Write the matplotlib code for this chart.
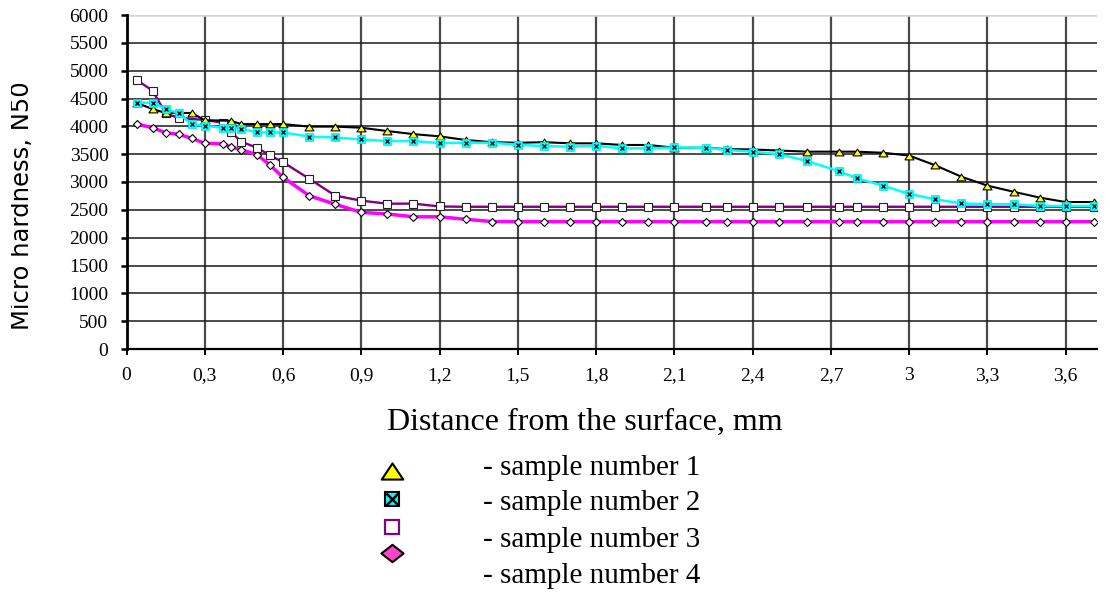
import matplotlib
matplotlib.use("Agg")
import matplotlib.pyplot as plt
from matplotlib.lines import Line2D
from matplotlib.path import Path
from matplotlib.transforms import Bbox, TransformedBbox

# ---------------- data ----------------
x_ticks = [0, 0.3, 0.6, 0.9, 1.2, 1.5, 1.8, 2.1, 2.4, 2.7, 3.0, 3.3, 3.6]
x_tick_labels = ["0", "0,3", "0,6", "0,9", "1,2", "1,5", "1,8", "2,1", "2,4", "2,7", "3", "3,3", "3,6"]
y_ticks = [0, 500, 1000, 1500, 2000, 2500, 3000, 3500, 4000, 4500, 5000, 5500, 6000]

x1 = [0.04, 0.1, 0.15, 0.2, 0.25, 0.3, 0.4, 0.44, 0.5, 0.55, 0.6, 0.7, 0.8, 0.9, 1.0, 1.1, 1.2, 1.3, 1.4, 1.5,
      1.6, 1.7, 1.8, 1.9, 2.0, 2.1, 2.22, 2.3, 2.4, 2.5, 2.61, 2.73, 2.8, 2.9, 3.0, 3.1, 3.2, 3.3, 3.4, 3.5,
      3.6, 3.71]
y1 = [4420, 4310, 4240, 4240, 4240, 4110, 4100, 4040, 4040, 4040, 4040, 3995, 3995, 3975, 3915, 3860, 3820, 3755, 3715, 3705,
      3715, 3695, 3695, 3665, 3665, 3615, 3615, 3590, 3585, 3565, 3545, 3545, 3545, 3525, 3475, 3300, 3095, 2935, 2825, 2720,
      2640, 2640]

x2 = [0.04, 0.1, 0.15, 0.2, 0.25, 0.3, 0.37, 0.4, 0.44, 0.5, 0.55, 0.6, 0.7, 0.8, 0.9, 1.0, 1.1, 1.2, 1.3, 1.4,
      1.5, 1.6, 1.7, 1.8, 1.9, 2.0, 2.1, 2.22, 2.3, 2.4, 2.5, 2.61, 2.73, 2.8, 2.9, 3.0, 3.1, 3.2, 3.3, 3.4,
      3.5, 3.6, 3.71]
y2 = [4425, 4425, 4315, 4235, 4035, 4010, 3975, 3975, 3960, 3890, 3890, 3890, 3815, 3800, 3765, 3735, 3735, 3700, 3705, 3705,
      3670, 3645, 3635, 3650, 3605, 3605, 3620, 3615, 3575, 3545, 3500, 3375, 3195, 3065, 2935, 2785, 2690, 2615, 2600, 2600,
      2570, 2570, 2570]

x3 = [0.04, 0.1, 0.15, 0.2, 0.3, 0.37, 0.4, 0.44, 0.5, 0.55, 0.6, 0.7, 0.8, 0.9, 1.0, 1.1, 1.2, 1.3, 1.4, 1.5,
      1.6, 1.7, 1.8, 1.9, 2.0, 2.1, 2.22, 2.3, 2.4, 2.5, 2.61, 2.73, 2.8, 2.9, 3.0, 3.1, 3.2, 3.3, 3.4, 3.5,
      3.6, 3.71]
y3 = [4830, 4640, 4235, 4150, 4115, 4065, 3900, 3725, 3615, 3480, 3355, 3060, 2755, 2665, 2610, 2612, 2560, 2555, 2555, 2555,
      2555, 2555, 2555, 2555, 2555, 2555, 2555, 2555, 2555, 2555, 2555, 2555, 2555, 2555, 2555, 2555, 2555, 2555, 2555, 2555,
      2555, 2555]

x4 = [0.04, 0.1, 0.15, 0.2, 0.25, 0.3, 0.37, 0.4, 0.44, 0.5, 0.55, 0.6, 0.7, 0.8, 0.9, 1.0, 1.1, 1.2, 1.3, 1.4,
      1.5, 1.6, 1.7, 1.8, 1.9, 2.0, 2.1, 2.22, 2.3, 2.4, 2.5, 2.61, 2.73, 2.8, 2.9, 3.0, 3.1, 3.2, 3.3, 3.4,
      3.5, 3.6, 3.71]
y4 = [4040, 3975, 3885, 3855, 3785, 3695, 3685, 3630, 3580, 3490, 3305, 3085, 2755, 2600, 2455, 2425, 2375, 2375, 2330, 2290,
      2287, 2287, 2287, 2287, 2287, 2287, 2287, 2287, 2287, 2287, 2287, 2287, 2287, 2287, 2287, 2287, 2287, 2287, 2287, 2287,
      2287, 2287, 2287]

legend_labels = ["- sample number 1", "- sample number 2", "- sample number 3", "- sample number 4"]
x_label = "Distance from the surface, mm"
y_label = "Micro hardness, N50"

# ---------------- figure ----------------
W, H = 1110, 592
fig = plt.figure(figsize=(W / 100, H / 100), dpi=100)
fig.patch.set_facecolor("white")

def fx(px):
    return px / W

def fy(py):
    return 1 - py / H

ax = fig.add_axes([fx(126.5), fy(349), fx(1097) - fx(126.5), fy(15) - fy(349)])
ax.set_xlim(0, 3.72)
ax.set_ylim(0, 6000)

serif = "Liberation Serif"

ax.set_xticks(x_ticks)
ax.set_xticklabels(x_tick_labels, fontfamily=serif, fontsize=14)
ax.set_yticks(y_ticks)
ax.set_yticklabels([str(v) for v in y_ticks], fontfamily=serif, fontsize=14)
ax.tick_params(axis="y", direction="out", length=4.5, width=1.8, pad=8.5, colors="black")
ax.tick_params(axis="x", direction="out", length=4.0, width=1.4, pad=9.0, colors="black")

for s in ["top", "right"]:
    ax.spines[s].set_visible(False)
ax.spines["left"].set_linewidth(2.0)
ax.spines["bottom"].set_linewidth(1.6)

ax.set_axisbelow(True)
ax.grid(axis="y", color="#1a1a1a", linewidth=1.1)
ax.grid(axis="x", color="#4a4a4a", linewidth=1.6)
ax.yaxis.get_gridlines()[-1].set_color("#d4d4d4")
ax.yaxis.get_gridlines()[-1].set_linewidth(1.8)
ax.xaxis.get_gridlines()[0].set_visible(False)

tri = Path([(-1, -0.75), (1, -0.75), (0, 0.75), (-1, -0.75)],
           [Path.MOVETO, Path.LINETO, Path.LINETO, Path.CLOSEPOLY])
dia = Path([(-1, 0), (0, 0.78), (1, 0), (0, -0.78), (-1, 0)],
           [Path.MOVETO, Path.LINETO, Path.LINETO, Path.LINETO, Path.CLOSEPOLY])

# sample 4 (bottom)
ax.plot(x4, y4, color="#ff00ff", linewidth=2.5, zorder=3,
        marker="D", markersize=4.2, markerfacecolor="white", markeredgecolor="black", markeredgewidth=0.8)
# sample 3
ax.plot(x3, y3, color="#800080", linewidth=1.7, zorder=4,
        marker="s", markersize=5.2, markerfacecolor="white", markeredgecolor="#222222", markeredgewidth=0.8)
# sample 1
ax.plot(x1, y1, color="black", linewidth=1.5, zorder=5,
        marker=tri, markersize=6.5, markerfacecolor="#ffff00", markeredgecolor="black", markeredgewidth=0.8)
# sample 2 (top)
ax.plot(x2, y2, color="#00ffff", linewidth=1.8, zorder=6,
        marker="s", markersize=5.5, markerfacecolor="#00ffff", markeredgecolor="#00e0e0", markeredgewidth=0.5)
ax.plot(x2, y2, linestyle="none", zorder=7,
        marker="x", markersize=2.6, markeredgecolor="#111111", markeredgewidth=1.0)

# axis labels
fig.text(fx(585), fy(430), x_label, ha="center", va="baseline", fontfamily=serif, fontsize=23)

yl = fig.text(fx(29), fy(206), y_label, rotation=90, rotation_mode="anchor",
              ha="center", va="baseline", fontfamily="DejaVu Sans", fontsize=17.5)
yl.set_clip_box(TransformedBbox(Bbox([[11 / W, 0], [1, 1]]), fig.transFigure))
yl.set_clip_on(True)

# legend (manual, figure coordinates)
baselines = [475, 510, 547, 583]
for lab, b in zip(legend_labels, baselines):
    fig.text(fx(483), fy(b), lab, ha="left", va="baseline", fontfamily=serif, fontsize=21)

mx = fx(392)
fig.add_artist(Line2D([mx], [fy(471)], transform=fig.transFigure, linestyle="none",
                      marker=tri, markersize=15.5, markerfacecolor="#ffff00",
                      markeredgecolor="black", markeredgewidth=1.5))
fig.add_artist(Line2D([mx], [fy(499)], transform=fig.transFigure, linestyle="none",
                      marker="s", markersize=9.5, markerfacecolor="#00ffff",
                      markeredgecolor="black", markeredgewidth=1.5))
fig.add_artist(Line2D([mx], [fy(499)], transform=fig.transFigure, linestyle="none",
                      marker="x", markersize=8.5, markeredgecolor="black", markeredgewidth=1.8))
fig.add_artist(Line2D([mx], [fy(527)], transform=fig.transFigure, linestyle="none",
                      marker="s", markersize=10, markerfacecolor="white",
                      markeredgecolor="#800080", markeredgewidth=1.6))
fig.add_artist(Line2D([mx], [fy(553)], transform=fig.transFigure, linestyle="none",
                      marker=dia, markersize=16, markerfacecolor="#ff44cc",
                      markeredgecolor="black", markeredgewidth=1.5))

fig.savefig("out.png", dpi=100, facecolor="white")
